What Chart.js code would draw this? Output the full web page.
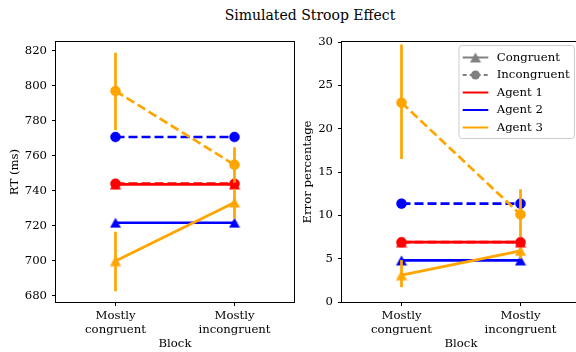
<!DOCTYPE html>
<html>
<head>
<meta charset="utf-8">
<script src="https://cdn.jsdelivr.net/npm/chart.js@4/dist/chart.umd.min.js"></script>
<style>
  html, body { margin: 0; padding: 0; width: 576px; height: 352px; overflow: hidden; background: #fff; }
  #title { position: absolute; left: 0; width: 620px; top: 6px; text-align: center; font-family: "DejaVu Serif"; font-size: 14px; line-height: 18px; color: #000; }
  #c1 { position: absolute; left: 0; top: 0; }
  #c2 { position: absolute; left: 300px; top: 0; }
</style>
</head>
<body>
<div id="title">Simulated Stroop Effect</div>
<canvas id="c1" width="300" height="352"></canvas>
<canvas id="c2" width="290" height="352"></canvas>
<script>
// ---- data ----
const categories = ['Mostly congruent', 'Mostly incongruent'];
const agents = ['Agent 1', 'Agent 2', 'Agent 3'];
const agentColors = ['#ff0000', '#0000ff', '#ffa500'];
const conditions = ['Congruent', 'Incongruent'];

// Reaction time (ms)
const rtCongruent1 = [743.6, 743.6];
const rtCongruent2 = [721.7, 721.7];
const rtCongruent3 = [699.8, 733.3];
const rtIncongruent1 = [744.0, 744.0];
const rtIncongruent2 = [770.7, 770.7];
const rtIncongruent3 = [797.0, 754.8];
const rtCongruent3Low = [682.5, 724.0];
const rtCongruent3High = [716.5, 743.0];
const rtIncongruent3Low = [774.7, 744.5];
const rtIncongruent3High = [818.9, 764.8];

// Error percentage
const errCongruent1 = [6.9, 6.9];
const errCongruent2 = [4.8, 4.8];
const errCongruent3 = [3.1, 5.9];
const errIncongruent1 = [6.9, 6.9];
const errIncongruent2 = [11.35, 11.35];
const errIncongruent3 = [23.0, 10.1];
const errCongruent3Low = [1.7, 5.0];
const errCongruent3High = [4.85, 6.8];
const errIncongruent3Low = [16.5, 7.5];
const errIncongruent3High = [29.7, 13.0];

const rtTicks = [680, 700, 720, 740, 760, 780, 800, 820];
const errTicks = [0, 5, 10, 15, 20, 25, 30];

// ---- styling helpers ----
const FONT = 'DejaVu Serif';
const FS = 11.7;
function triImg(color) {
  const c = document.createElement('canvas');
  c.width = 12; c.height = 11;
  const g = c.getContext('2d');
  g.fillStyle = color;
  g.beginPath();
  g.moveTo(6, 0.5); g.lineTo(11.5, 10.5); g.lineTo(0.5, 10.5);
  g.closePath(); g.fill();
  return c;
}
const LW = 2.7;
const DASH = [9, 4];

function lineDs(values, color, incong, order) {
  return {
    data: values,
    borderColor: color,
    backgroundColor: color,
    borderWidth: LW,
    borderDash: incong ? DASH : [],
    pointStyle: incong ? 'circle' : triImg(color),
    pointRadius: 5,
    pointBackgroundColor: color,
    pointBorderColor: color,
    pointBorderWidth: 0.5,
    tension: 0,
    order: order
  };
}
function errDs(lows, highs, color, order) {
  const out = [];
  lows.forEach((lo, i) => {
    out.push({
      data: [{x: categories[i], y: lo}, {x: categories[i], y: highs[i]}],
      borderColor: color,
      borderWidth: LW,
      pointRadius: 0,
      order: order
    });
  });
  return out;
}

const framePlugin = {
  id: 'frame',
  afterDraw(chart) {
    const a = chart.chartArea, ctx = chart.ctx;
    ctx.save();
    ctx.strokeStyle = '#000';
    ctx.lineWidth = 1;
    ctx.strokeRect(Math.round(a.left) - 0.5, Math.round(a.top) - 0.5, Math.round(a.right - a.left) + 1, Math.round(a.bottom - a.top) + 1);
    ctx.restore();
  }
};

const legendPlugin = {
  id: 'mplLegend',
  afterDraw(chart) {
    const ctx = chart.ctx;
    const bx = 158.5, by = 45, bw = 115.5, bh = 93;
    ctx.save();
    ctx.beginPath();
    ctx.roundRect(bx + 0.5, by + 0.5, bw, bh, 3);
    ctx.fillStyle = 'rgba(255,255,255,0.8)';
    ctx.fill();
    ctx.strokeStyle = '#cccccc';
    ctx.lineWidth = 1;
    ctx.stroke();
    const items = [
      {label: conditions[0], color: '#808080', dash: [], marker: 'tri'},
      {label: conditions[1], color: '#808080', dash: [4, 3], marker: 'circle'},
      {label: agents[0], color: agentColors[0], dash: [], marker: null},
      {label: agents[1], color: agentColors[1], dash: [], marker: null},
      {label: agents[2], color: agentColors[2], dash: [], marker: null}
    ];
    const x0 = 162.7, x1 = 188.3, xm = (x0 + x1) / 2, tx = 196.7;
    items.forEach((it, i) => {
      const y = 57.5 + i * 17.5;
      ctx.beginPath();
      ctx.setLineDash(it.dash);
      ctx.strokeStyle = it.color;
      ctx.lineWidth = 2;
      ctx.moveTo(x0, y); ctx.lineTo(x1, y);
      ctx.stroke();
      ctx.setLineDash([]);
      if (it.marker === 'tri') {
        const img = triImg(it.color);
        ctx.drawImage(img, xm - 6, y - 5.5);
      } else if (it.marker === 'circle') {
        ctx.beginPath();
        ctx.arc(xm, y, 4.5, 0, Math.PI * 2);
        ctx.fillStyle = it.color;
        ctx.fill();
      }
      ctx.fillStyle = '#000';
      ctx.font = FS + 'px "' + FONT + '"';
      ctx.textBaseline = 'middle';
      ctx.textAlign = 'left';
      ctx.fillText(it.label, tx, y);
    });
    ctx.restore();
  }
};

function makeOptions(yMin, yMax, ticksArr, yTitle, yWidth, yTitlePad, padRight) {
  return {
    responsive: false,
    animation: false,
    events: [],
    layout: { padding: { top: 42, right: padRight, left: 0, bottom: 0 } },
    plugins: { legend: { display: false }, tooltip: { enabled: false }, title: { display: false } },
    scales: {
      x: {
        type: 'category',
        labels: categories,
        offset: true,
        border: { display: false },
        grid: { display: true, drawOnChartArea: false, drawTicks: true, tickLength: 4, tickColor: '#000', tickWidth: 1, offset: false },
        ticks: {
          padding: 2.7,
          color: '#000',
          font: { family: FONT, size: FS, lineHeight: 1.2 },
          maxRotation: 0,
          autoSkip: false,
          callback: function (v) { return this.getLabelForValue(v).split(' '); }
        },
        title: { display: true, text: 'Block', color: '#000', font: { family: FONT, size: FS, lineHeight: 1.2 }, padding: { top: 0, bottom: 1 } },
        afterFit: (s) => { s.height = 50; }
      },
      y: {
        type: 'linear',
        min: yMin, max: yMax,
        border: { display: false },
        grid: { display: true, drawOnChartArea: false, drawTicks: true, tickLength: 4, tickColor: '#000', tickWidth: 1 },
        afterBuildTicks: (s) => { s.ticks = ticksArr.map(v => ({ value: v })); },
        ticks: {
          padding: 5,
          color: '#000',
          font: { family: FONT, size: FS },
          callback: (v) => String(v)
        },
        title: { display: true, text: yTitle, color: '#000', font: { family: FONT, size: FS, lineHeight: 1.2 }, padding: { top: yTitlePad, bottom: 0 } },
        afterFit: (s) => { s.width = yWidth; }
      }
    }
  };
}

const C = agentColors;
new Chart(document.getElementById('c1'), {
  type: 'line',
  data: {
    datasets: [
      lineDs(rtIncongruent3, C[2], true, 0),
      ...errDs(rtIncongruent3Low, rtIncongruent3High, C[2], 1),
      lineDs(rtIncongruent2, C[1], true, 2),
      lineDs(rtIncongruent1, C[0], true, 3),
      lineDs(rtCongruent3, C[2], false, 4),
      ...errDs(rtCongruent3Low, rtCongruent3High, C[2], 5),
      lineDs(rtCongruent2, C[1], false, 6),
      lineDs(rtCongruent1, C[0], false, 7)
    ]
  },
  options: makeOptions(676.4, 825, rtTicks, 'RT (ms)', 56, 8, 6),
  plugins: [framePlugin]
});

new Chart(document.getElementById('c2'), {
  type: 'line',
  data: {
    datasets: [
      lineDs(errIncongruent3, C[2], true, 0),
      ...errDs(errIncongruent3Low, errIncongruent3High, C[2], 1),
      lineDs(errIncongruent2, C[1], true, 2),
      lineDs(errIncongruent1, C[0], true, 3),
      lineDs(errCongruent3, C[2], false, 4),
      ...errDs(errCongruent3Low, errCongruent3High, C[2], 5),
      lineDs(errCongruent2, C[1], false, 6),
      lineDs(errCongruent1, C[0], false, 7)
    ]
  },
  options: makeOptions(0, 30, errTicks, 'Error percentage', 42, 1.3, 10),
  plugins: [framePlugin, legendPlugin]
});
</script>
</body>
</html>
